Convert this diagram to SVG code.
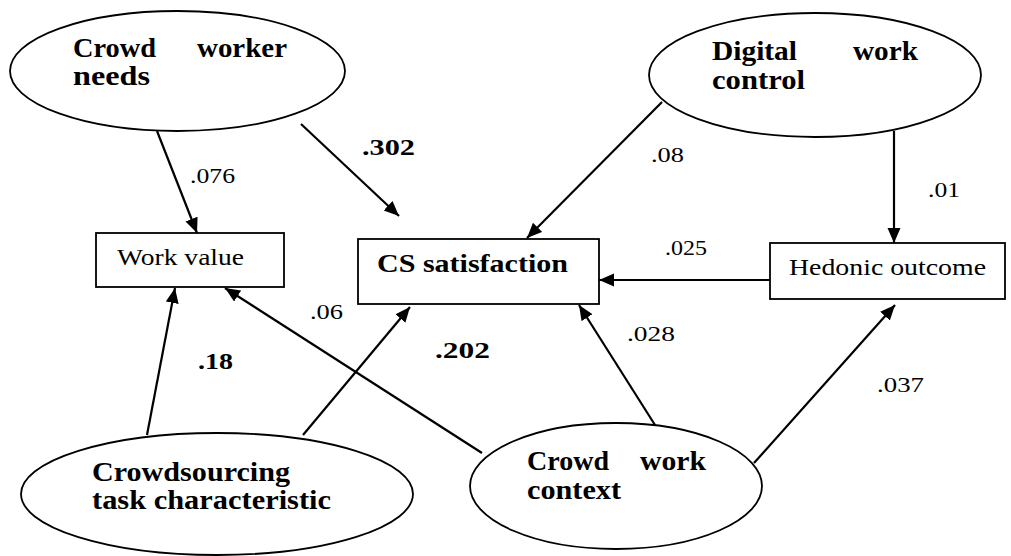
<svg xmlns="http://www.w3.org/2000/svg" width="1011" height="556" viewBox="0 0 1011 556" font-family="'Liberation Serif', 'Times New Roman', serif">
<style>
.node{fill:#fff;stroke:#000;stroke-width:1.8}
text{font-family:"Liberation Serif","Times New Roman",serif;fill:#000}
.lbl{font-family:"Liberation Serif",serif;font-size:27px;font-weight:bold}
.box{font-family:"Liberation Serif",serif;font-size:24px}
.boxb{font-family:"Liberation Serif",serif;font-size:25px;font-weight:bold}
.num{font-family:"Liberation Serif",serif;font-size:22px}
.numb{font-family:"Liberation Serif",serif;font-size:23px;font-weight:bold}
.edge{stroke:#000;stroke-width:2.2;fill:none;marker-end:url(#arr)}
</style>
<defs>
<marker id="arr" markerUnits="userSpaceOnUse" markerWidth="16" markerHeight="14" refX="15" refY="6.5" orient="auto">
<path d="M0,0 L15,6.5 L0,13 Z" fill="#000"/>
</marker>
</defs>
<rect width="1011" height="556" fill="#fff"/>
<g id="connectors">
<line class="edge" x1="157" y1="131" x2="197" y2="233"/>
<line class="edge" x1="301" y1="124" x2="399" y2="216"/>
<line class="edge" x1="662" y1="102" x2="527" y2="238"/>
<line class="edge" x1="894" y1="131" x2="894" y2="243"/>
<line class="edge" x1="770" y1="280" x2="599" y2="280"/>
<line class="edge" x1="655" y1="425" x2="579" y2="305"/>
<line class="edge" x1="754" y1="463" x2="895" y2="305"/>
<line class="edge" x1="482" y1="453" x2="225" y2="288"/>
<line class="edge" x1="147" y1="435" x2="175" y2="288"/>
<line class="edge" x1="303" y1="435" x2="410" y2="307"/>
</g>
<g id="labels">
<text class="num" x="190" y="183" textLength="45" lengthAdjust="spacingAndGlyphs">.076</text>
<text class="numb" x="362" y="155" textLength="53" lengthAdjust="spacingAndGlyphs">.302</text>
<text class="num" x="651" y="162" textLength="33" lengthAdjust="spacingAndGlyphs">.08</text>
<text class="num" x="928" y="197" textLength="32" lengthAdjust="spacingAndGlyphs">.01</text>
<text class="num" x="665" y="255" textLength="42" lengthAdjust="spacingAndGlyphs">.025</text>
<text class="num" x="627" y="341" textLength="48" lengthAdjust="spacingAndGlyphs">.028</text>
<text class="num" x="877" y="392" textLength="47" lengthAdjust="spacingAndGlyphs">.037</text>
<text class="num" x="310" y="319" textLength="33" lengthAdjust="spacingAndGlyphs">.06</text>
<text class="numb" x="198" y="369" textLength="35" lengthAdjust="spacingAndGlyphs">.18</text>
<text class="numb" x="435" y="358" textLength="55" lengthAdjust="spacingAndGlyphs">.202</text>
</g>
<g id="crowd-worker-needs">
<ellipse class="node" cx="177.5" cy="71" rx="167.5" ry="60"/>
<text class="lbl" x="73" y="57" textLength="83" lengthAdjust="spacingAndGlyphs">Crowd</text>
<text class="lbl" x="197" y="57" textLength="90" lengthAdjust="spacingAndGlyphs">worker</text>
<text class="lbl" x="73" y="85" textLength="77" lengthAdjust="spacingAndGlyphs">needs</text>
</g>
<g id="digital-work-control">
<ellipse class="node" cx="815" cy="75" rx="166" ry="62"/>
<text class="lbl" x="712" y="60" textLength="85" lengthAdjust="spacingAndGlyphs">Digital</text>
<text class="lbl" x="853" y="60" textLength="65" lengthAdjust="spacingAndGlyphs">work</text>
<text class="lbl" x="712" y="89" textLength="93" lengthAdjust="spacingAndGlyphs">control</text>
</g>
<g id="work-value">
<rect class="node" x="96" y="233" width="188" height="54"/>
<text class="box" x="117" y="265" textLength="127" lengthAdjust="spacingAndGlyphs">Work value</text>
</g>
<g id="cs-satisfaction">
<rect class="node" x="358" y="239" width="241" height="65"/>
<text class="boxb" x="377" y="272" textLength="191" lengthAdjust="spacingAndGlyphs">CS satisfaction</text>
</g>
<g id="hedonic-outcome">
<rect class="node" x="770" y="243" width="235" height="56"/>
<text class="box" x="789" y="275" textLength="197" lengthAdjust="spacingAndGlyphs">Hedonic outcome</text>
</g>
<g id="crowdsourcing-task-characteristic">
<ellipse class="node" cx="217" cy="494" rx="196" ry="61"/>
<text class="lbl" x="92" y="481" textLength="198" lengthAdjust="spacingAndGlyphs">Crowdsourcing</text>
<text class="lbl" x="92" y="509" textLength="239" lengthAdjust="spacingAndGlyphs">task characteristic</text>
</g>
<g id="crowd-work-context">
<ellipse class="node" cx="616" cy="486" rx="146" ry="63"/>
<text class="lbl" x="527" y="470" textLength="82" lengthAdjust="spacingAndGlyphs">Crowd</text>
<text class="lbl" x="640" y="470" textLength="66" lengthAdjust="spacingAndGlyphs">work</text>
<text class="lbl" x="527" y="499" textLength="94" lengthAdjust="spacingAndGlyphs">context</text>
</g>
</svg>
